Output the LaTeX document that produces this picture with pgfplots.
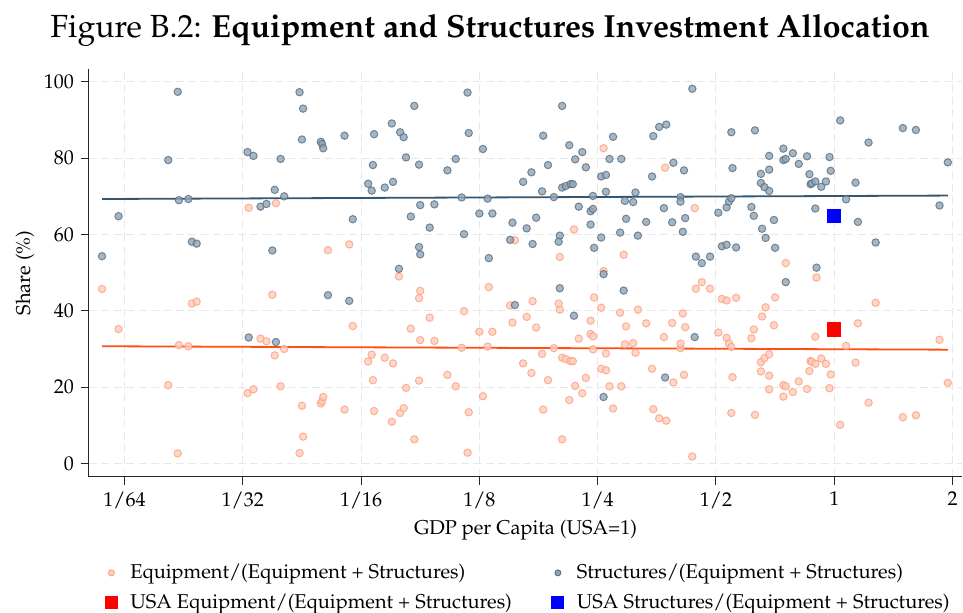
\documentclass[border=0pt]{standalone}
\usepackage[T1]{fontenc}
\usepackage{mathpazo}
\usepackage{pgfplots}
\usepackage{pgfplotstable}
\pgfplotsset{compat=1.18}

\definecolor{eqfill}{RGB}{255,205,188}
\definecolor{eqedge}{RGB}{252,160,132}
\definecolor{stfill}{RGB}{145,164,180}
\definecolor{stedge}{RGB}{88,112,134}
\definecolor{stline}{RGB}{52,86,112}
\definecolor{eqline}{RGB}{255,78,18}
\definecolor{gridgray}{RGB}{232,232,232}

% lgdp = log2(GDP per capita relative to USA); st, eq = shares in percent
\pgfplotstableread{
lgdp st eq
-6.19 54.3 45.7
-6.05 64.8 35.2
-5.55 97.4 2.6
-5.63 79.5 20.5
-5.54 69.0 31.0
-5.46 69.3 30.7
-5.43 58.1 41.9
-5.39 57.6 42.4
-4.96 81.6 18.4
-4.91 80.6 19.4
-4.68 79.8 20.2
-4.73 71.7 28.3
-4.65 70.0 30.0
-4.85 67.3 32.7
-4.80 68.0 32.0
-4.75 55.8 44.2
-4.52 97.3 2.7
-4.49 93.0 7.0
-4.50 84.9 15.1
-4.34 84.3 15.7
-4.33 83.7 16.3
-4.32 82.6 17.4
-4.95 33.0 67.0
-4.72 31.8 68.2
-4.28 44.1 55.9
-4.14 85.9 14.1
-3.89 86.3 13.7
-3.74 89.1 10.9
-3.67 86.8 13.2
-3.64 85.5 14.5
-3.55 93.7 6.3
-3.62 80.2 19.8
-3.90 78.2 21.8
-3.94 73.3 26.7
-3.91 71.5 28.5
-3.80 72.3 27.7
-3.73 73.8 26.2
-3.51 78.3 21.7
-3.27 76.8 23.2
-3.20 79.8 20.2
-3.10 97.2 2.8
-3.09 86.6 13.4
-2.97 82.4 17.6
-3.50 67.7 32.3
-3.38 67.9 32.1
-3.58 64.7 35.3
-4.07 64.0 36.0
-3.42 61.8 38.2
-3.15 69.7 30.3
-2.93 69.4 30.6
-3.00 65.5 34.5
-2.89 65.5 34.5
-3.13 60.1 39.9
-3.51 56.7 43.3
-3.50 54.8 45.2
-3.68 51.0 49.0
-2.92 53.8 46.2
-2.72 63.1 36.9
-2.74 58.6 41.4
-2.60 61.6 38.4
-2.52 64.4 35.6
-2.55 57.5 42.5
-2.63 73.8 26.2
-2.56 76.3 23.7
-2.42 78.2 21.8
-2.46 85.9 14.1
-2.30 93.7 6.3
-2.24 83.4 16.6
-2.13 81.6 18.4
-2.19 79.7 20.3
-2.10 77.6 22.4
-2.47 71.3 28.7
-2.37 69.8 30.2
-2.30 72.3 27.7
-2.27 72.7 27.3
-2.23 73.2 26.8
-2.21 73.2 26.8
-2.16 67.3 32.7
-2.04 70.1 29.9
-2.06 66.1 33.9
-2.04 66.7 33.3
-2.06 62.6 37.4
-2.32 59.7 40.3
-2.33 58.1 41.9
-2.03 56.5 43.5
-1.97 59.2 40.8
-1.95 49.6 50.4
-1.97 75.2 24.8
-1.93 75.6 24.4
-1.93 71.2 28.8
-1.90 79.8 20.2
-1.87 85.6 14.4
-1.80 79.8 20.2
-1.77 68.8 31.2
-1.70 68.5 31.5
-1.68 71.0 29.0
-1.76 64.1 35.9
-1.81 60.5 39.5
-1.66 59.7 40.3
-1.59 63.3 36.7
-2.32 45.9 54.1
-1.78 45.3 54.7
-1.95 17.4 82.6
-2.20 38.7 61.3
-2.70 41.5 58.5
-4.10 42.6 57.4
-1.20 98.2 1.8
-1.53 85.8 14.2
-1.48 88.2 11.8
-1.42 88.8 11.2
-1.36 78.8 21.2
-1.54 75.2 24.8
-1.27 76.8 23.2
-1.30 69.8 30.2
-1.30 68.6 31.4
-1.44 66.9 33.1
-1.37 63.2 36.8
-1.26 64.3 35.7
-1.28 60.7 39.3
-1.17 54.2 45.8
-1.12 52.5 47.5
-1.05 54.2 45.8
-0.98 65.7 34.3
-0.91 67.1 32.9
-0.89 68.6 31.4
-0.87 69.5 30.5
-0.87 86.8 13.2
-0.86 77.4 22.6
-0.67 87.3 12.7
-0.95 56.9 43.1
-0.91 57.3 42.7
-0.83 56.6 43.4
-0.70 67.2 32.8
-0.68 64.9 35.1
-0.61 61.5 38.5
-0.58 59.1 40.9
-0.51 63.8 36.2
-0.50 56.5 43.5
-0.62 75.9 24.1
-0.62 73.5 26.5
-0.59 72.4 27.6
-0.55 71.4 28.6
-0.55 77.0 23.0
-0.55 80.6 19.4
-0.43 82.5 17.5
-0.43 79.5 20.5
-0.41 79.8 20.2
-0.35 81.3 18.7
-0.30 78.5 21.5
-0.23 80.5 19.5
-0.21 75.8 24.2
-0.20 73.2 26.8
-0.19 73.4 26.6
-0.16 73.9 26.1
-0.11 72.5 27.5
-0.07 73.9 26.1
-0.04 80.3 19.7
-0.03 76.7 23.3
-0.16 66.8 33.2
0.05 89.9 10.1
0.10 69.2 30.8
0.18 73.6 26.4
0.20 63.3 36.7
0.29 84.1 15.9
0.35 57.9 42.1
0.58 87.9 12.1
0.69 87.4 12.6
0.89 67.6 32.4
0.96 78.9 21.1
-0.15 51.3 48.7
-0.41 47.5 52.5
-1.43 22.5 77.5
-1.18 33.1 66.9
}\shares

% fitted values at the ends of the data range
\pgfplotstableread{
lgdp st eq
-6.19 69.3 30.7
0.96 70.2 29.8
}\fits

\pgfplotstableread{
lgdp st eq
0 64.9 35.1
}\usa

\begin{document}
\begin{tikzpicture}
\begin{axis}[
  name=ax,
  scale only axis,
  width=436.5pt, height=203.7pt,
  xmin=-6.30, xmax=1.08,
  ymin=-3.5, ymax=103.3,
  axis x line*=bottom, axis y line*=left,
  axis line style={black!85, line width=0.5pt},
  tick style={black!85, line width=0.5pt},
  tick align=outside,
  major tick length=4pt,
  xtick={-6,-5,-4,-3,-2,-1,0,1},
  xticklabels={\mbox{1/64},\mbox{1/32},\mbox{1/16},\mbox{1/8},\mbox{1/4},\mbox{1/2},\mbox{1},\mbox{2}},
  ytick={0,20,40,60,80,100},
  grid=major,
  major grid style={gridgray, line width=0.5pt, dash pattern=on 4pt off 2.2pt},
  ticklabel style={font=\fontsize{10}{12}\selectfont},
  xlabel={GDP per Capita (USA=1)},
  ylabel={Share (\%)},
  label style={font=\fontsize{10}{12}\selectfont},
  xlabel style={yshift=1pt},
  ylabel style={yshift=-2pt},
  clip=false,
  legend columns=2,
  legend cell align=left,
  legend style={
    at={(0,0)}, anchor=north west,
    xshift=7pt, yshift=-41.5pt,
    draw=none, fill=none, inner sep=0pt,
    font=\fontsize{10}{12}\selectfont,
    row sep=2.2pt,
    /tikz/every even column/.append style={column sep=17pt},
  },
]

\addplot[only marks, mark=*, mark size=1.85pt,
  mark options={draw=eqedge, fill=eqfill, line width=0.5pt, opacity=0.8},
  legend image code/.code={
    \path[draw=none, fill=none] (-4pt,-3pt) rectangle (7.5pt,3pt);
    \draw[mark=*, mark size=1.5pt, mark options={draw=eqedge, fill=eqfill, line width=0.45pt}] plot coordinates {(0pt,0pt)};}]
  table[x=lgdp, y=eq] {\shares};
\addlegendentry{Equipment/(Equipment + Structures)}

\addplot[only marks, mark=*, mark size=1.85pt,
  mark options={draw=stedge, fill=stfill, line width=0.5pt, opacity=0.8},
  legend image code/.code={
    \path[draw=none, fill=none] (-4pt,-3pt) rectangle (7.5pt,3pt);
    \draw[mark=*, mark size=1.5pt, mark options={draw=stedge, fill=stfill, line width=0.45pt}] plot coordinates {(0pt,0pt)};}]
  table[x=lgdp, y=st] {\shares};
\addlegendentry{Structures/(Equipment + Structures)}

\addplot[eqline, line width=0.9pt, forget plot] table[x=lgdp, y=eq] {\fits};
\addplot[stline, line width=0.9pt, forget plot] table[x=lgdp, y=st] {\fits};

\addplot[only marks, mark=square*, mark size=3.35pt,
  mark options={draw=red, fill=red, line width=0pt},
  legend image code/.code={
    \path[draw=none, fill=none] (-4pt,-3pt) rectangle (7.5pt,3pt);
    \fill[red] (-3pt,-3pt) rectangle (3pt,3pt);}]
  table[x=lgdp, y=eq] {\usa};
\addlegendentry{USA Equipment/(Equipment + Structures)}

\addplot[only marks, mark=square*, mark size=3.35pt,
  mark options={draw=blue, fill=blue, line width=0pt},
  legend image code/.code={
    \path[draw=none, fill=none] (-4pt,-3pt) rectangle (7.5pt,3pt);
    \fill[blue] (-3pt,-3pt) rectangle (3pt,3pt);}]
  table[x=lgdp, y=st] {\usa};
\addlegendentry{USA Structures/(Equipment + Structures)}
\end{axis}

\node[anchor=base, font=\fontsize{16}{19}\selectfont, inner sep=0pt]
  at ([xshift=200.5pt, yshift=16.1pt]ax.north west)
  {Figure B.2: \textbf{Equipment and Structures Investment Allocation}};

\pgfresetboundingbox
\path ([shift={(-44.5pt,-67.65pt)}]ax.south west) rectangle ([shift={(0.5pt,34.65pt)}]ax.north east);
\end{tikzpicture}
\end{document}
